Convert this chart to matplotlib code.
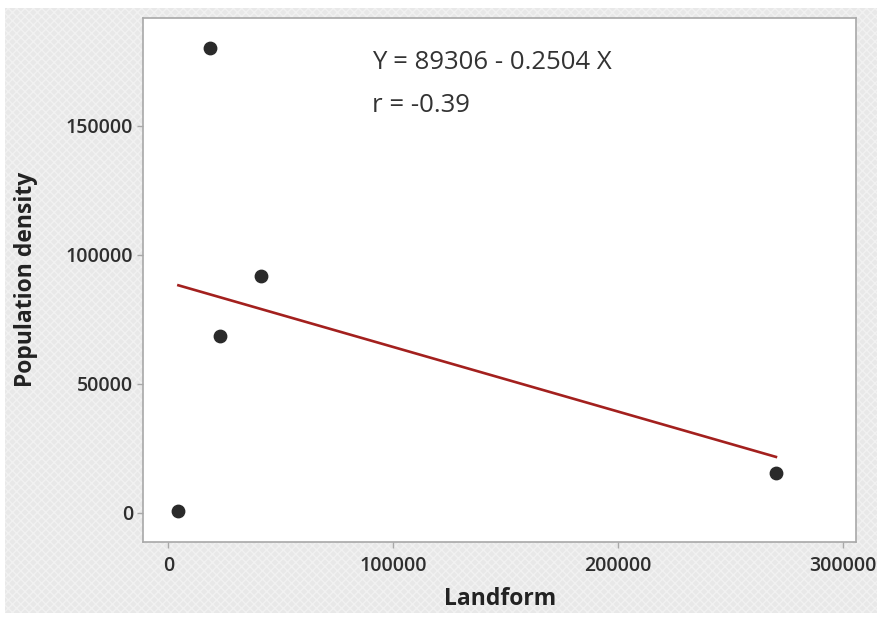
import numpy as np
import matplotlib.pyplot as plt
from matplotlib.patches import Rectangle

# data
landform = [4500, 18700, 23100, 41300, 270200]
density = [500, 180200, 68600, 91900, 15500]
intercept = 89306
slope = -0.2504
r_value = -0.39

x_ticks = [0, 100000, 200000, 300000]
y_ticks = [0, 50000, 100000, 150000]

plt.rcParams["font.family"] = ["Open Sans", "DejaVu Sans"]

fig = plt.figure(figsize=(8.82, 6.17), dpi=100, facecolor="white")
# hatched grey backdrop like the Minitab graph window
bg = Rectangle((0.006, 0.006), 0.988, 0.981, transform=fig.transFigure,
               facecolor="#e8e8e8", edgecolor="#f1f1f1", hatch="xxxx",
               linewidth=0, zorder=-10)
fig.patches.append(bg)

ax = fig.add_axes([0.1625, 0.122, 0.808, 0.849])
ax.set_facecolor("white")

ax.scatter(landform, density, s=80, color="#2a2a2a", zorder=3)

fit_x = np.array([min(landform), max(landform)])
fit_y = intercept + slope * fit_x
ax.plot(fit_x, fit_y, color="#a3201e", linewidth=1.9, zorder=2)

ax.set_xlim(-11100, 305800)
ax.set_ylim(-11240, 191860)
ax.set_xticks(x_ticks)
ax.set_yticks(y_ticks)
ax.set_xticklabels([str(t) for t in x_ticks])
ax.set_yticklabels([str(t) for t in y_ticks])

for s in ax.spines.values():
    s.set_color("#a8a8a8")
    s.set_linewidth(1.2)
ax.tick_params(colors="#a8a8a8", labelcolor="#2e2e2e", labelsize=14,
               length=4, width=1)
ax.tick_params(axis="x", pad=6)
for lab in ax.get_xticklabels() + ax.get_yticklabels():
    lab.set_fontweight("semibold")

ax.set_xlabel("Landform", fontsize=16.5, fontweight="bold", color="#222222",
              labelpad=8)
ax.set_ylabel("Population density", fontsize=16.5, fontweight="bold",
              color="#222222", labelpad=20)

ax.text(0.321, 0.914, f"Y = {intercept} - {abs(slope)} X",
        transform=ax.transAxes, ha="left", va="center", fontsize=18.5,
        color="#333333")
ax.text(0.321, 0.832, f"r = {r_value}", transform=ax.transAxes,
        ha="left", va="center", fontsize=18.5, color="#333333")

fig.savefig("out.png", dpi=100, facecolor=fig.get_facecolor())
